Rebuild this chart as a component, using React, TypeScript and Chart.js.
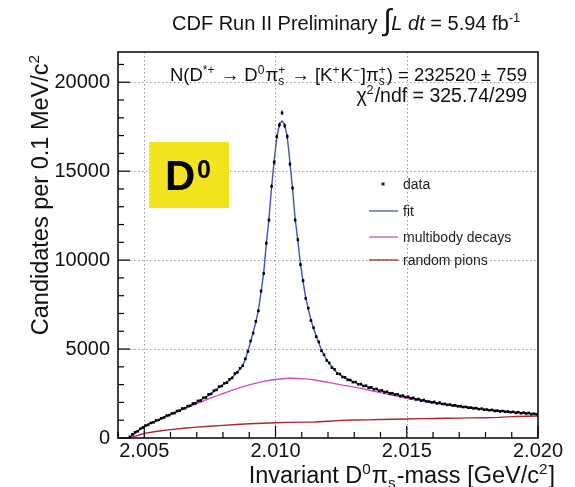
import React, { useEffect, useRef } from 'react';
import { Chart, registerables } from 'chart.js';

Chart.register(...registerables);

// Histogram binning: 0.1 MeV/c^2 bins starting at the D0 pi threshold
const BIN_LO = 2.0044;
const BIN_WIDTH = 0.0001;

// Candidates per bin
const dataCounts = [
  70, 210, 330, 380, 520, 590, 700, 740, 850, 880,
  990, 1010, 1110, 1150, 1260, 1280, 1380, 1400, 1520, 1540,
  1660, 1670, 1790, 1810, 1940, 1950, 2090, 2110, 2260, 2280,
  2450, 2480, 2660, 2700, 2890, 2920, 3080, 3110, 3300, 3380,
  3620, 3690, 3920, 4060, 4450, 4870, 5450, 5900, 6560, 7150,
  8260, 9250, 10950, 12250, 14150, 15500, 16950, 17600, 18280, 17550,
  16950, 15400, 14050, 12250, 11150, 9750, 8850, 7850, 7300, 6600,
  6200, 5700, 5400, 4900, 4680, 4360, 4220, 3960, 3860, 3620,
  3600, 3430, 3410, 3270, 3260, 3140, 3150, 3020, 3030, 2920,
  2940, 2830, 2850, 2740, 2760, 2650, 2680, 2580, 2600, 2500,
  2520, 2440, 2460, 2360, 2390, 2300, 2320, 2230, 2260, 2170,
  2190, 2100, 2140, 2060, 2050, 2000, 2030, 1940, 1990, 1910,
  1920, 1860, 1880, 1820, 1840, 1780, 1790, 1740, 1750, 1700,
  1710, 1660, 1680, 1620, 1650, 1590, 1600, 1560, 1580, 1520,
  1540, 1490, 1520, 1470, 1490, 1450, 1470, 1410, 1450, 1390,
  1430, 1370, 1410, 1340, 1370, 1330,
];

// Fit function evaluated at the bin centres
const fitCounts = [
  40, 180, 300, 400, 500, 600, 690, 760, 830, 900,
  960, 1030, 1090, 1160, 1230, 1300, 1360, 1420, 1490, 1550,
  1620, 1690, 1760, 1830, 1900, 1970, 2050, 2130, 2220, 2310,
  2400, 2500, 2610, 2730, 2840, 2940, 3040, 3140, 3250, 3400,
  3560, 3720, 3870, 4080, 4400, 4900, 5400, 5950, 6500, 7200,
  8200, 9300, 10900, 12300, 14100, 15600, 16900, 17650, 17830, 17600,
  16900, 15500, 14000, 12300, 11100, 9800, 8800, 7900, 7250, 6650,
  6150, 5750, 5350, 4950, 4640, 4400, 4180, 4000, 3820, 3660,
  3560, 3470, 3380, 3300, 3230, 3170, 3110, 3055, 3000, 2950,
  2900, 2855, 2810, 2765, 2720, 2680, 2640, 2600, 2565, 2530,
  2495, 2460, 2425, 2390, 2355, 2320, 2290, 2260, 2230, 2195,
  2165, 2135, 2100, 2070, 2040, 2015, 1995, 1970, 1950, 1925,
  1905, 1885, 1860, 1840, 1815, 1795, 1770, 1750, 1735, 1715,
  1695, 1680, 1660, 1640, 1625, 1605, 1590, 1570, 1555, 1535,
  1525, 1510, 1500, 1490, 1475, 1465, 1450, 1440, 1430, 1415,
  1405, 1390, 1380, 1370, 1355, 1345,
];

// Multibody decay component
const multibodyMass = [
  2.0044, 2.0045, 2.0050, 2.0055, 2.0060, 2.0065, 2.0070, 2.0075, 2.0080, 2.0085,
  2.0090, 2.0095, 2.0100, 2.0105, 2.0110, 2.0115, 2.0120, 2.0125, 2.0130, 2.0135,
  2.0140, 2.0145, 2.0150, 2.0155, 2.0160, 2.0165, 2.0170, 2.0175, 2.0180, 2.0185,
  2.0190, 2.0195, 2.0200,
];
const multibodyCounts = [
  0, 60, 660, 980, 1310, 1620, 1930, 2230, 2500, 2760,
  2990, 3170, 3290, 3360, 3340, 3260, 3130, 2990, 2860, 2710,
  2550, 2390, 2230, 2100, 1980, 1870, 1770, 1690, 1610, 1540,
  1470, 1410, 1350,
];

// Random pion component
const pionMass = [
  2.0044, 2.0047, 2.0050, 2.0055, 2.0060, 2.0065, 2.0070, 2.0075, 2.0080, 2.0085,
  2.0090, 2.0095, 2.0100, 2.0105, 2.0110, 2.0115, 2.0120, 2.0125, 2.0130, 2.0135,
  2.0140, 2.0145, 2.0150, 2.0155, 2.0160, 2.0165, 2.0170, 2.0175, 2.0180, 2.0185,
  2.0190, 2.0195, 2.0200,
];
const pionCounts = [
  0, 120, 260, 380, 470, 550, 610, 660, 710, 760,
  800, 830, 860, 880, 890, 900, 940, 990, 1010, 1020,
  1040, 1055, 1070, 1090, 1100, 1110, 1120, 1130, 1140, 1160,
  1200, 1220, 1240,
];

const xTickValues = [2.005, 2.01, 2.015, 2.02];
const yTickValues = [0, 5000, 10000, 15000, 20000];
const X_MIN = 2.004;
const X_MAX = 2.02;
const Y_MAX = 21700;

const FAMILY = '"Liberation Sans", Arial, Helvetica, sans-serif';
const FIT_COLOR = '#3f51c4';
const MULTI_COLOR = '#cf4fbf';
const PION_COLOR = '#a8282c';

type Seg = { t?: string; sup?: string; sub?: string; it?: boolean; k?: number };

const fontOf = (size: number, italic?: boolean) =>
  `${italic ? 'italic ' : ''}${size}px ${FAMILY}`;

function segWidth(ctx: CanvasRenderingContext2D, s: Seg, size: number) {
  if (s.t !== undefined) {
    ctx.font = fontOf(size * (s.k ?? 1), s.it);
    return ctx.measureText(s.t).width;
  }
  ctx.font = fontOf(size * 0.65);
  const a = s.sup ? ctx.measureText(s.sup).width : 0;
  const b = s.sub ? ctx.measureText(s.sub).width : 0;
  return Math.max(a, b) + 1;
}

function drawRich(
  ctx: CanvasRenderingContext2D,
  segs: Seg[],
  x: number,
  y: number,
  size: number,
  align: 'left' | 'right' | 'center',
) {
  const total = segs.reduce((w, s) => w + segWidth(ctx, s, size), 0);
  let cx = align === 'right' ? x - total : align === 'center' ? x - total / 2 : x;
  ctx.textAlign = 'left';
  ctx.textBaseline = 'alphabetic';
  for (const s of segs) {
    const w = segWidth(ctx, s, size);
    if (s.t !== undefined) {
      ctx.font = fontOf(size * (s.k ?? 1), s.it);
      ctx.fillText(s.t, cx, y);
    } else {
      ctx.font = fontOf(size * 0.65);
      if (s.sup) ctx.fillText(s.sup, cx, y - size * 0.4);
      if (s.sub) ctx.fillText(s.sub, cx, y + size * 0.22);
    }
    cx += w;
  }
}

const headerSegs: Seg[] = [
  { t: 'CDF Run II Preliminary ' },
  { t: '\u222B', k: 1.5 },
  { t: 'L dt', it: true },
  { t: ' = 5.94 fb' },
  { sup: '-1' },
];

const yieldSegs: Seg[] = [
  { t: 'N(D' },
  { sup: '*+' },
  { t: ' \u2192 D' },
  { sup: '0' },
  { t: '\u03C0' },
  { sup: '+', sub: 's' },
  { t: ' \u2192 [K' },
  { sup: '+' },
  { t: 'K' },
  { sup: '\u2212' },
  { t: ']\u03C0' },
  { sup: '+', sub: 's' },
  { t: ') = 232520 \u00B1 759' },
];

const chiSegs: Seg[] = [{ t: '\u03C7' }, { sup: '2' }, { t: '/ndf = 325.74/299' }];

const yTitleSegs: Seg[] = [{ t: 'Candidates per 0.1 MeV/c' }, { sup: '2' }];

const xTitleSegs: Seg[] = [
  { t: 'Invariant D' },
  { sup: '0' },
  { t: '\u03C0' },
  { sub: 's' },
  { t: '-mass [GeV/c' },
  { sup: '2' },
  { t: ']' },
];

const decorations = {
  id: 'decorations',
  beforeDatasetsDraw(chart: any) {
    const { ctx, chartArea: a, scales } = chart;
    const xs = scales.x;
    const ys = scales.y;
    ctx.save();
    ctx.strokeStyle = '#9a9a9a';
    ctx.lineWidth = 1;
    ctx.setLineDash([1.5, 2.5]);
    for (const v of xTickValues) {
      const px = Math.round(xs.getPixelForValue(v)) + 0.5;
      if (px > a.right - 2) continue;
      ctx.beginPath();
      ctx.moveTo(px, a.top);
      ctx.lineTo(px, a.bottom);
      ctx.stroke();
    }
    for (const v of yTickValues) {
      if (v === 0) continue;
      const py = Math.round(ys.getPixelForValue(v)) + 0.5;
      ctx.beginPath();
      ctx.moveTo(a.left, py);
      ctx.lineTo(a.right, py);
      ctx.stroke();
    }
    ctx.restore();
  },
  afterDatasetsDraw(chart: any) {
    const { ctx, chartArea: a, scales } = chart;
    const xs = scales.x;
    const ys = scales.y;
    ctx.save();
    // statistical error bars on the data points
    const meta = chart.getDatasetMeta(0);
    ctx.strokeStyle = '#000';
    ctx.lineWidth = 1;
    meta.data.forEach((el: any, i: number) => {
      const v = dataCounts[i];
      const e = Math.sqrt(v);
      ctx.beginPath();
      ctx.moveTo(el.x, ys.getPixelForValue(v + e));
      ctx.lineTo(el.x, ys.getPixelForValue(v - e));
      ctx.stroke();
    });
    // frame
    ctx.strokeStyle = '#000';
    ctx.lineWidth = 1.5;
    ctx.strokeRect(a.left, a.top, a.right - a.left, a.bottom - a.top);
    // inward ticks
    ctx.lineWidth = 1.2;
    for (let k = 0; k <= 16; k++) {
      const v = X_MIN + k * 0.001;
      const major = xTickValues.some((t) => Math.abs(t - v) < 1e-7);
      const px = xs.getPixelForValue(v);
      ctx.beginPath();
      ctx.moveTo(px, a.bottom);
      ctx.lineTo(px, a.bottom - (major ? 12 : 6));
      ctx.stroke();
    }
    for (let v = 0; v <= Y_MAX; v += 1000) {
      const major = v % 5000 === 0;
      const py = ys.getPixelForValue(v);
      ctx.beginPath();
      ctx.moveTo(a.left, py);
      ctx.lineTo(a.left + (major ? 12 : 6), py);
      ctx.stroke();
    }
    ctx.restore();
  },
  afterDraw(chart: any) {
    const { ctx } = chart;
    ctx.save();
    ctx.fillStyle = '#111';
    drawRich(ctx, headerSegs, 172, 30, 20, 'left');
    drawRich(ctx, yieldSegs, 527, 81, 18.5, 'right');
    drawRich(ctx, chiSegs, 527, 102, 19.5, 'right');

    // axis titles, aligned to the far end of each axis
    drawRich(ctx, xTitleSegs, 555, 483, 23.5, 'right');
    ctx.save();
    ctx.translate(48, 54);
    ctx.rotate(-Math.PI / 2);
    drawRich(ctx, yTitleSegs, 0, 0, 23.5, 'right');
    ctx.restore();

    // D0 tag
    ctx.fillStyle = '#f4e41f';
    ctx.fillRect(149, 142, 80, 66);
    ctx.fillStyle = '#000';
    ctx.textAlign = 'left';
    ctx.textBaseline = 'alphabetic';
    ctx.font = `bold 42px ${FAMILY}`;
    ctx.fillText('D', 165, 190);
    ctx.font = `bold 25px ${FAMILY}`;
    ctx.fillText('0', 197, 178);

    // legend
    const lx0 = 369;
    const lx1 = 398;
    const tx = 403;
    ctx.font = `14px ${FAMILY}`;
    ctx.fillStyle = '#222';
    ctx.fillRect(381.5, 182.5, 3, 3);
    ctx.fillText('data', tx, 189);
    const rows: [string, string, number][] = [
      ['fit', FIT_COLOR, 211],
      ['multibody decays', MULTI_COLOR, 237],
      ['random pions', PION_COLOR, 260],
    ];
    for (const [label, color, y] of rows) {
      ctx.strokeStyle = color;
      ctx.lineWidth = 1.3;
      ctx.beginPath();
      ctx.moveTo(lx0, y);
      ctx.lineTo(lx1, y);
      ctx.stroke();
      ctx.fillStyle = '#222';
      ctx.fillText(label, tx, y + 5);
    }
    ctx.restore();
  },
};

export default function App() {
  const canvasRef = useRef<HTMLCanvasElement | null>(null);

  useEffect(() => {
    const canvas = canvasRef.current;
    if (!canvas) return;
    const massOf = (i: number) => BIN_LO + (i + 0.5) * BIN_WIDTH;
    const chart = new Chart(canvas, {
      type: 'line',
      data: {
        datasets: [
          {
            label: 'data',
            data: dataCounts.map((v, i) => ({ x: massOf(i), y: v })),
            showLine: false,
            pointStyle: 'rect',
            pointRadius: 1.8,
            pointBackgroundColor: '#000',
            pointBorderWidth: 0,
            order: 0,
          },
          {
            label: 'fit',
            data: fitCounts.map((v, i) => ({ x: massOf(i), y: v })),
            borderColor: FIT_COLOR,
            borderWidth: 1.4,
            pointRadius: 0,
            tension: 0,
            order: 1,
          },
          {
            label: 'multibody decays',
            data: multibodyMass.map((m, i) => ({ x: m, y: multibodyCounts[i] })),
            borderColor: MULTI_COLOR,
            borderWidth: 1.4,
            pointRadius: 0,
            tension: 0.3,
            order: 2,
          },
          {
            label: 'random pions',
            data: pionMass.map((m, i) => ({ x: m, y: pionCounts[i] })),
            borderColor: PION_COLOR,
            borderWidth: 1.4,
            pointRadius: 0,
            tension: 0,
            order: 3,
          },
        ],
      } as any,
      options: {
        responsive: false,
        animation: false,
        devicePixelRatio: 1,
        layout: { padding: { left: 0, top: 52, right: 37, bottom: 0 } },
        plugins: {
          legend: { display: false },
          tooltip: { enabled: false },
        },
        scales: {
          x: {
            type: 'linear',
            min: X_MIN,
            max: X_MAX,
            afterBuildTicks: (s: any) => {
              s.ticks = xTickValues.map((v) => ({ value: v }));
            },
            afterFit: (s: any) => {
              s.height = 49;
            },
            grid: { display: false, drawTicks: false },
            border: { display: false },
            ticks: {
              padding: 1,
              autoSkip: false,
              maxRotation: 0,
              color: '#111',
              font: { family: FAMILY, size: 20 },
              callback: (v: any) => Number(v).toFixed(3),
            },
          },
          y: {
            type: 'linear',
            min: 0,
            max: Y_MAX,
            afterBuildTicks: (s: any) => {
              s.ticks = yTickValues.map((v) => ({ value: v }));
            },
            afterFit: (s: any) => {
              s.width = 118;
            },
            grid: { display: false, drawTicks: false },
            border: { display: false },
            ticks: {
              padding: 8,
              autoSkip: false,
              color: '#111',
              font: { family: FAMILY, size: 20 },
              callback: (v: any) => String(v),
            },
          },
        },
      } as any,
      plugins: [decorations],
    });
    return () => chart.destroy();
  }, []);

  return (
    <div style={{ position: 'fixed', left: 0, top: 0, width: 575, height: 487, background: '#fff' }}>
      <canvas ref={canvasRef} width={575} height={487} style={{ display: 'block' }} />
    </div>
  );
}
